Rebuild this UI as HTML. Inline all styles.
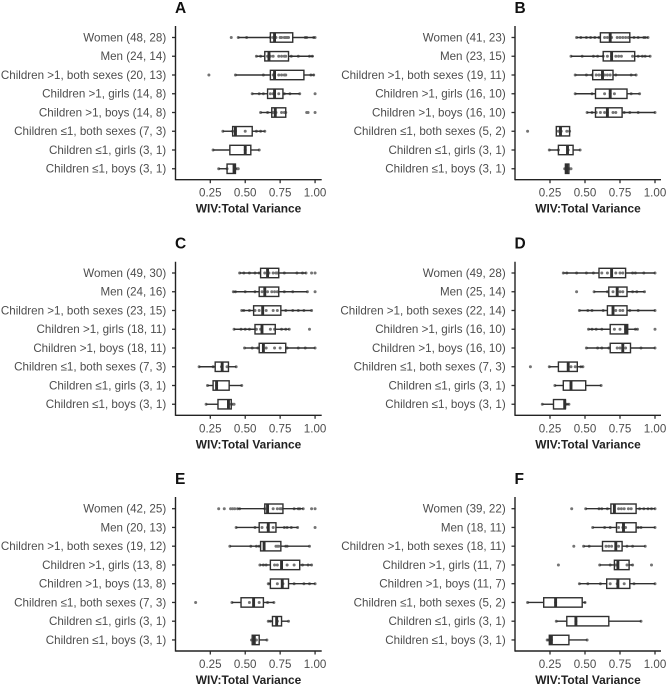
<!DOCTYPE html>
<html>
<head>
<meta charset="utf-8">
<style>
html,body{margin:0;padding:0;background:#fff;width:667px;height:687px;overflow:hidden}
svg{display:block;font-family:"Liberation Sans",sans-serif}
</style>
</head>
<body>
<svg id="figure" width="667" height="687" viewBox="0 0 667 687" xmlns="http://www.w3.org/2000/svg"></svg>
<script>
const tickValues = [0.25, 0.5, 0.75, 1];
const tickLabels = ["0.25", "0.50", "0.75", "1.00"];
const xAxisTitle = "WIV:Total Variance";
const panelLetters = ["A", "B", "C", "D", "E", "F"];

const categoriesA = ["Women (48, 28)", "Men (24, 14)", "Children >1, both sexes (20, 13)", "Children >1, girls (14, 8)", "Children >1, boys (14, 8)", "Children ≤1, both sexes (7, 3)", "Children ≤1, girls (3, 1)", "Children ≤1, boys (3, 1)"];
const categoriesB = ["Women (41, 23)", "Men (23, 15)", "Children >1, both sexes (19, 11)", "Children >1, girls (16, 10)", "Children >1, boys (16, 10)", "Children ≤1, both sexes (5, 2)", "Children ≤1, girls (3, 1)", "Children ≤1, boys (3, 1)"];
const categoriesC = ["Women (49, 30)", "Men (24, 16)", "Children >1, both sexes (23, 15)", "Children >1, girls (18, 11)", "Children >1, boys (18, 11)", "Children ≤1, both sexes (7, 3)", "Children ≤1, girls (3, 1)", "Children ≤1, boys (3, 1)"];
const categoriesD = ["Women (49, 28)", "Men (25, 14)", "Children >1, both sexes (22, 14)", "Children >1, girls (16, 10)", "Children >1, boys (16, 10)", "Children ≤1, both sexes (7, 3)", "Children ≤1, girls (3, 1)", "Children ≤1, boys (3, 1)"];
const categoriesE = ["Women (42, 25)", "Men (20, 13)", "Children >1, both sexes (19, 12)", "Children >1, girls (13, 8)", "Children >1, boys (13, 8)", "Children ≤1, both sexes (7, 3)", "Children ≤1, girls (3, 1)", "Children ≤1, boys (3, 1)"];
const categoriesF = ["Women (39, 22)", "Men (18, 11)", "Children >1, both sexes (18, 11)", "Children >1, girls (11, 7)", "Children >1, boys (11, 7)", "Children ≤1, both sexes (5, 2)", "Children ≤1, girls (3, 1)", "Children ≤1, boys (3, 1)"];

/* each row: whisker low, Q1, median, Q3, whisker high */
const statsA = [[.45,.68,.71,.84,1],[.58,.64,.67,.81,.99],[.43,.68,.71,.92,.995],[.55,.66,.71,.77,.89],[.61,.69,.715,.79,.79],[.34,.41,.43,.55,.64],[.27,.39,.5,.54,.6],[.31,.37,.42,.43,.44]];
const statsB = [[.44,.61,.68,.82,.95],[.4,.63,.69,.855,.965],[.43,.555,.625,.7,.865],[.43,.575,.68,.8,.89],[.515,.575,.66,.765,1],[.295,.295,.325,.39,.39],[.245,.31,.375,.415,.465],[.355,.36,.37,.385,.39]];
const statsC = [[.46,.61,.66,.74,.935],[.415,.6,.64,.74,.945],[.475,.56,.625,.755,.975],[.42,.57,.62,.715,.815],[.495,.6,.63,.79,1],[.17,.285,.335,.38,.435],[.23,.27,.295,.385,.475],[.22,.305,.38,.4,.41]];
const statsD = [[.345,.6,.69,.79,1],[.565,.67,.73,.8,.925],[.46,.66,.7,.8,1],[.525,.68,.79,.805,.875],[.51,.68,.77,.825,1],[.245,.31,.38,.445,.485],[.285,.345,.4,.505,.615],[.195,.275,.355,.36,.385]];
const statsE = [[.445,.64,.66,.77,.915],[.435,.6,.665,.72,.875],[.39,.61,.635,.755,.96],[.605,.68,.76,.89,.975],[.665,.68,.765,.81,1],[.405,.47,.56,.63,.705],[.665,.695,.725,.76,.81],[.545,.55,.565,.6,.655]];
const statsF = [[.505,.685,.71,.865,1],[.555,.725,.775,.865,1],[.49,.625,.72,.765,.93],[.605,.71,.735,.815,.84],[.46,.655,.735,.82,1],[.09,.205,.29,.48,.505],[.295,.37,.435,.67,.9],[.23,.245,.26,.385,.515]];

/* each row: individual observations, including those beyond the whiskers */
const pointsA = [[.4,.45,.51,.68,.7,.72,.75,.76,.78,.79,.8,.81,.93,.94,.99,1],[.58,.61,.66,.68,.7,.74,.76,.78,.79,.83,.88,.96,.98],[.24,.43,.63,.7,.74,.76,.78,.79,.97,.99],[.55,.6,.63,.68,.7,.74,.78,.82,.89,1],[.61,.66,.7,.72,.76,.78,.79,.94,.95,1],[.34,.41,.43,.5,.58,.61,.64],[.27,.5,.6],[.31,.37,.43,.44,.45]];
const pointsB = [[.44,.47,.51,.54,.57,.6,.64,.66,.69,.73,.75,.77,.79,.81,.85,.88,.92,.93,.95],[.4,.48,.56,.59,.63,.66,.69,.72,.74,.76,.84,.88,.91,.93,.965],[.43,.51,.55,.58,.6,.62,.64,.66,.68,.72,.83,.865],[.43,.55,.64,.68,.71,.83,.89],[.515,.55,.58,.61,.64,.66,.7,.72,.78,.82,.88,1],[.09,.31,.33,.37,.39],[.245,.31,.38,.465],[.355,.37,.38,.39,.4]];
const pointsC = [[.46,.49,.53,.57,.6,.64,.67,.7,.72,.73,.78,.87,.91,.935,.975,1],[.415,.43,.5,.57,.62,.66,.69,.71,.73,.78,.84,.945,1],[.475,.49,.53,.57,.6,.65,.7,.73,.79,.84,.88,.92,.975],[.42,.47,.5,.53,.58,.61,.68,.71,.76,.79,.815,.96],[.495,.55,.59,.65,.71,.75,.8,.88,.93,1],[.17,.27,.33,.37,.435],[.23,.295,.475],[.22,.38,.4,.41,.42]];
const pointsD = [[.345,.37,.44,.51,.56,.62,.66,.72,.75,.77,.84,.86,.92,1],[.44,.565,.66,.7,.75,.77,.84,.87,.925],[.46,.52,.55,.63,.72,.75,.77,.82,.88,1],[.525,.55,.58,.62,.71,.75,.79,.86,.875,1],[.51,.59,.62,.67,.73,.75,.79,.9,1],[.11,.245,.4,.43,.47,.485],[.285,.4,.615],[.195,.36,.37,.385]];
const pointsE = [[.31,.35,.395,.41,.425,.445,.46,.64,.7,.73,.75,.76,.85,.88,.89,.915,.975,1],[.435,.57,.62,.66,.7,.78,.8,.83,.875,1],[.39,.54,.58,.6,.72,.73,.74,.79,.8,.96],[.605,.63,.65,.71,.73,.8,.85,.91,.95,.975],[.665,.67,.73,.77,.85,.92,.96,1],[.145,.405,.53,.6,.66,.705],[.665,.68,.73,.81],[.545,.56,.58,.655]];
const pointsF = [[.405,.505,.6,.62,.66,.74,.76,.78,.81,.83,.89,.92,.95,.975,1],[.555,.64,.68,.74,.77,.79,.88,.9,1],[.42,.49,.53,.65,.67,.69,.74,.8,.84,.93],[.31,.605,.68,.72,.8,.84,.975],[.46,.52,.61,.68,.73,.78,.85,1],[.09,.29,.5],[.295,.435,.9],[.23,.24,.25,.26,.515]];

const panelCategories = [categoriesA, categoriesB, categoriesC, categoriesD, categoriesE, categoriesF];
const panelStats = [statsA, statsB, statsC, statsD, statsE, statsF];
const panelPoints = [pointsA, pointsB, pointsC, pointsD, pointsE, pointsF];

const SVG_NS = "http://www.w3.org/2000/svg";
const figure = document.getElementById("figure");
const INK = "#303030";

function make(tag, attrs, parent) {
  const el = document.createElementNS(SVG_NS, tag);
  for (const k in attrs) el.setAttribute(k, attrs[k]);
  parent.appendChild(el);
  return el;
}

function panelFrame(index) {
  const col = index % 2;
  const row = Math.floor(index / 2);
  return {
    axisX: col === 0 ? 175.5 : 515,
    originX: col === 0 ? 210.3 : 550,
    pxPerUnit: col === 0 ? 139.7 : 140,
    rightX: col === 0 ? 321.7 : 661,
    topY: [26, 261.7, 497][row],
    firstRowY: [37.5, 273, 508.7][row],
    bottomY: [179.7, 415.3, 651][row],
    titleY: [13, 248.3, 484][row]
  };
}

function xScale(frame, value) {
  return frame.originX + (value - 0.25) * frame.pxPerUnit;
}

function yScale(frame, rowIndex) {
  return frame.firstRowY + rowIndex * 18.75;
}

function drawPanel(index) {
  const frame = panelFrame(index);
  const letter = panelLetters[index].toLowerCase();
  const cats = panelCategories[index];
  const stats = panelStats[index];
  const pts = panelPoints[index];

  const g = make("g", {}, figure);
  
  

  const title = make("text", {x: frame.axisX - 0.5, y: frame.titleY, "font-size": 15.5, "font-weight": "bold", fill: "#111"}, g);
  title.textContent = panelLetters[index];
  
  

  cats.forEach(function (label, r) {
    const y = yScale(frame, r);
    const tick = make("line", {x1: frame.axisX - 3.5, x2: frame.axisX, y1: y, y2: y, stroke: INK, "stroke-width": 1.3}, g);
    
    
    const text = make("text", {x: frame.axisX - 9.3, y: y + 3.9, "text-anchor": "end", "font-size": 11.6, fill: "#4d4d4d"}, g);
    text.textContent = label;
    
    
  });

  tickValues.forEach(function (v, t) {
    const x = xScale(frame, v);
    const tick = make("line", {x1: x, x2: x, y1: frame.bottomY, y2: frame.bottomY + 3.5, stroke: INK, "stroke-width": 1.3}, g);
    
    
    const text = make("text", {x: x, y: frame.bottomY + 17, "text-anchor": "middle", "font-size": 11.6, fill: "#4d4d4d"}, g);
    text.textContent = tickLabels[t];
    
    
  });

  const xTitle = make("text", {x: frame.axisX + 73, y: frame.bottomY + 33, "text-anchor": "middle", "font-size": 11.9, "font-weight": "bold", fill: "#222"}, g);
  xTitle.textContent = xAxisTitle;
  
  

  pts.forEach(function (rowPoints, r) {
    const y = yScale(frame, r);
    rowPoints.forEach(function (v) {
      const dot = make("circle", {cx: xScale(frame, v), cy: y, r: 1.5, fill: "#747474"}, g);
      
      
    });
  });

  stats.forEach(function (s, r) {
    const y = yScale(frame, r);
    const xs = s.map(function (v) { return xScale(frame, v); });
    const w1 = make("line", {x1: xs[0], x2: xs[1], y1: y, y2: y, stroke: INK, "stroke-width": 1.4}, g);
    
    
    const w2 = make("line", {x1: xs[3], x2: xs[4], y1: y, y2: y, stroke: INK, "stroke-width": 1.4}, g);
    
    
    const box = make("rect", {x: xs[1], y: y - 4.7, width: xs[3] - xs[1], height: 9.4, fill: "none", stroke: INK, "stroke-width": 1.4}, g);
    
    
    const med = make("line", {x1: xs[2], x2: xs[2], y1: y - 4.7, y2: y + 4.7, stroke: INK, "stroke-width": 2.9}, g);
    
    
  });

  const yAxis = make("line", {x1: frame.axisX, x2: frame.axisX, y1: frame.topY, y2: frame.bottomY + 0.6, stroke: "#222", "stroke-width": 1.4}, g);
  
  
  const xAxis = make("line", {x1: frame.axisX, x2: frame.rightX, y1: frame.bottomY, y2: frame.bottomY, stroke: "#222", "stroke-width": 1.4}, g);
  
  
}

panelLetters.forEach(function (_, i) { drawPanel(i); });
</script>
</body>
</html>
